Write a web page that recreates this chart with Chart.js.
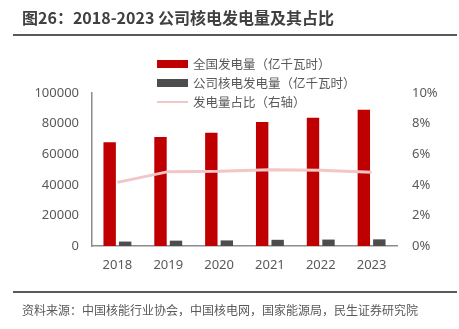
<!DOCTYPE html>
<html>
<head>
<meta charset="utf-8">
<script src="https://cdn.jsdelivr.net/npm/chart.js@4"></script>
<style>
  html, body { margin: 0; padding: 0; background: #fff; }
  #wrap { position: relative; width: 459px; height: 329px; overflow: hidden; font-family: "Noto Sans CJK SC", "Noto Sans", sans-serif; }
  #chartBox { position: absolute; left: 0; top: 0; width: 459px; height: 329px; }
  .title { position: absolute; left: 22px; top: 5px; font-size: 16px; font-weight: bold; color: #404040; white-space: nowrap; }
  .rule { position: absolute; left: 13px; width: 444px; height: 2px; background: #5a5a5a; }
  .source { position: absolute; left: 22px; top: 301px; font-size: 12px; color: #595959; white-space: nowrap; }
  #legend { position: absolute; left: 157px; top: 54px; }
  .item { display: flex; align-items: center; height: 19px; font-size: 12.5px; color: #595959; white-space: nowrap; }
  .sw { width: 31px; margin-right: 5px; }
</style>
</head>
<body>
<div id="wrap">
  <div id="chartBox"><canvas id="nuclearChart"></canvas></div>
  <div class="title">图26：2018-2023 公司核电发电量及其占比</div>
  <div class="rule" style="top:34px"></div>
  <div id="legend"></div>
  <div class="rule" style="top:291px"></div>
  <div class="source">资料来源：中国核能行业协会，中国核电网，国家能源局，民生证券研究院</div>
</div>
<script>
const years = ["2018", "2019", "2020", "2021", "2022", "2023"];
const totalGen = [67800, 71300, 74100, 81100, 83900, 89100];   // 亿千瓦时
const nuclearGen = [2900, 3500, 3650, 4050, 4200, 4350];       // 亿千瓦时
const nuclearShare = [4.16, 4.86, 4.88, 4.99, 4.95, 4.82];    // %
const leftTicks = [0, 20000, 40000, 60000, 80000, 100000];
const rightTicks = [0, 2, 4, 6, 8, 10];

const RED = "#c00000";
const GRAY = "#4d4d4d";
const PINK = "#f2c6c6";
const TEXT = "#595959";

const tickFont = { family: "'Noto Sans', 'Noto Sans CJK SC', sans-serif", size: 13 };

const ctx = document.getElementById("nuclearChart").getContext("2d");
const chart = new Chart(ctx, {
  type: "bar",
  data: {
    labels: years,
    datasets: [
      {
        label: "全国发电量（亿千瓦时）",
        data: totalGen,
        backgroundColor: RED,
        yAxisID: "y",
        order: 2,
        categoryPercentage: 0.61,
        barPercentage: 0.8
      },
      {
        label: "公司核电发电量（亿千瓦时）",
        data: nuclearGen,
        backgroundColor: GRAY,
        yAxisID: "y",
        order: 2,
        categoryPercentage: 0.61,
        barPercentage: 0.8
      },
      {
        type: "line",
        label: "发电量占比（右轴）",
        data: nuclearShare,
        borderColor: PINK,
        borderWidth: 3,
        pointRadius: 0,
        tension: 0,
        fill: false,
        yAxisID: "y1",
        order: 1
      }
    ]
  },
  options: {
    responsive: true,
    maintainAspectRatio: false,
    animation: false,
    layout: { padding: { left: 0, right: 0, top: 93, bottom: 53 } },
    plugins: { legend: { display: false }, tooltip: { enabled: false } },
    scales: {
      x: {
        grid: { display: false, drawTicks: false },
        border: { display: true, color: "#8c8c8c", width: 1.5 },
        ticks: { color: TEXT, font: tickFont, padding: 11 },
        afterFit: (s) => { s.height = 30; }
      },
      y: {
        position: "left",
        min: 0,
        max: 100000,
        afterBuildTicks: (s) => { s.ticks = leftTicks.map(v => ({ value: v })); },
        grid: { display: false, drawTicks: false },
        border: { display: true, color: "#8c8c8c", width: 1.5 },
        ticks: { color: TEXT, font: tickFont, padding: 13, callback: (v) => String(v) },
        afterFit: (s) => { s.width = 92; }
      },
      y1: {
        position: "right",
        min: 0,
        max: 10,
        afterBuildTicks: (s) => { s.ticks = rightTicks.map(v => ({ value: v })); },
        grid: { display: false, drawTicks: false },
        border: { display: false },
        ticks: { color: TEXT, font: tickFont, padding: 15, callback: (v) => v + "%" },
        afterFit: (s) => { s.width = 62; }
      }
    }
  }
});

// html legend built from the datasets
const legendEl = document.getElementById("legend");
chart.data.datasets.forEach((ds) => {
  const row = document.createElement("div");
  row.className = "item";
  const sw = document.createElement("span");
  sw.className = "sw";
  if (ds.type === "line") {
    sw.style.height = "2px";
    sw.style.background = ds.borderColor;
  } else {
    sw.style.height = "8px";
    sw.style.background = ds.backgroundColor;
  }
  const txt = document.createElement("span");
  txt.textContent = ds.label;
  row.appendChild(sw);
  row.appendChild(txt);
  legendEl.appendChild(row);
});
</script>
</body>
</html>
